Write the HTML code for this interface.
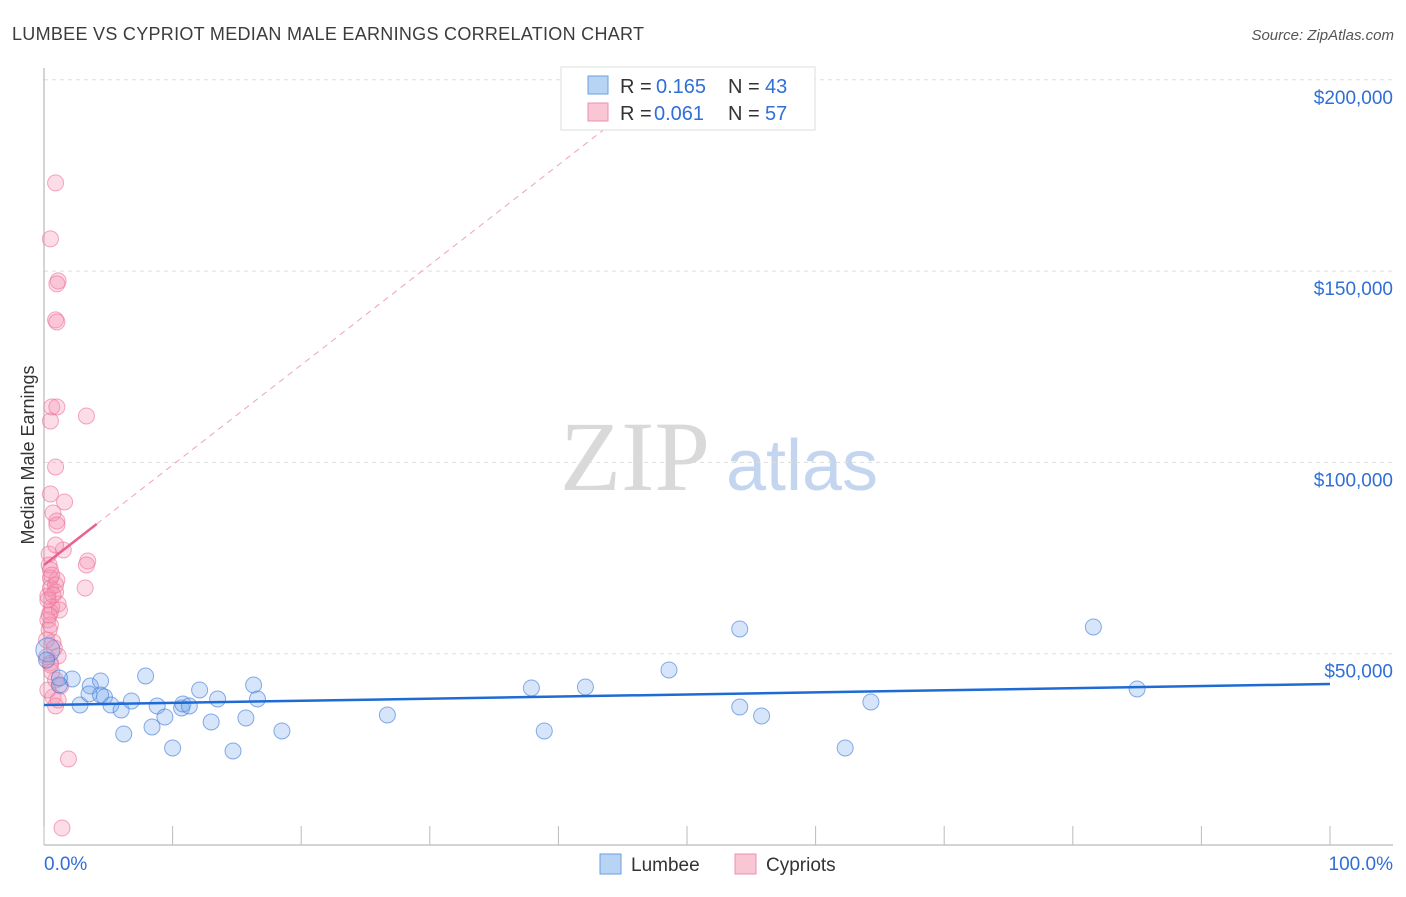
<!DOCTYPE html>
<html><head><meta charset="utf-8"><style>
body{margin:0;background:#fff;font-family:"Liberation Sans",sans-serif}
svg text{font-family:"Liberation Sans",sans-serif}
</style></head><body>
<svg id="chart" width="1406" height="892" xmlns="http://www.w3.org/2000/svg">
<text x="12" y="40" font-size="18" fill="#3c3c3c" textLength="632" lengthAdjust="spacing">LUMBEE VS CYPRIOT MEDIAN MALE EARNINGS CORRELATION CHART</text>
<text x="1394" y="40" font-size="15" font-style="italic" fill="#555" text-anchor="end">Source: ZipAtlas.com</text>
<g>
<text x="635" y="490" font-size="100" fill="#d9d9d9" style="font-family:'Liberation Serif',serif" text-anchor="middle">ZIP</text>
<text x="802" y="490" font-size="72" fill="#c4d6ef" text-anchor="middle">atlas</text>
</g>
<g id="grid"></g>
<g id="axes"></g>
<g id="marks"></g>
<text transform="translate(34,455) rotate(-90)" font-size="18" fill="#333" text-anchor="middle">Median Male Earnings</text>
<g>
<rect x="561" y="67" width="254" height="63" fill="#fff" stroke="#ddd"/>
<rect x="588" y="76" width="20" height="18" fill="#b8d4f5" stroke="#6a9ee0"/>
<rect x="588" y="103" width="20" height="18" fill="#f9c6d6" stroke="#ec8fb0"/>
<text x="620" y="93" font-size="20" fill="#333">R =</text>
<text x="656" y="93" font-size="20" fill="#2f6fd6">0.165</text>
<text x="728" y="93" font-size="20" fill="#333">N =</text>
<text x="765" y="93" font-size="20" fill="#2f6fd6">43</text>
<text x="620" y="120" font-size="20" fill="#333">R =</text>
<text x="654" y="120" font-size="20" fill="#2f6fd6">0.061</text>
<text x="728" y="120" font-size="20" fill="#333">N =</text>
<text x="765" y="120" font-size="20" fill="#2f6fd6">57</text>
</g>
<g>
<rect x="600" y="854" width="21" height="20" fill="#b8d4f5" stroke="#6a9ee0"/>
<text x="631" y="871" font-size="19" fill="#333">Lumbee</text>
<rect x="735" y="854" width="21" height="20" fill="#f9c6d6" stroke="#ec8fb0"/>
<text x="766" y="871" font-size="19" fill="#333">Cypriots</text>
</g>
</svg>
<script>
const yTicks=[50000,100000,150000,200000];
const yTickLabels=["$50,000","$100,000","$150,000","$200,000"];
const xTickLabels=["0.0%","100.0%"];
const lumbeeX=[0.3,0.2,1.2,2.2,2.8,3.6,4.4,4.7,3.5,5.2,6.0,6.2,6.8,7.9,8.4,8.8,9.4,10.0,10.7,10.8,11.3,12.1,13.0,13.5,14.7,15.7,16.3,16.6,18.5,26.7,37.9,38.9,42.1,48.6,54.1,54.1,55.8,62.3,64.3,81.6,85.0,1.2,4.4];
const lumbeeY=[50970,48360,41820,43390,36600,41560,42870,38690,39470,36600,35290,29020,37640,44180,30850,36330,33460,25360,35810,36860,36330,40520,32150,38160,24570,33200,41820,38160,29800,33980,41040,29800,41300,45750,56460,36070,33720,25360,37380,56990,40780,43650,39210];
const cypX=[0.9,0.5,1.1,1.0,0.9,1.0,0.6,1.0,0.5,3.3,0.9,0.5,1.6,0.7,1.0,1.0,1.5,0.4,0.4,3.4,3.3,0.5,1.0,3.2,0.5,0.9,0.3,1.1,0.6,0.5,0.3,0.5,0.7,0.2,1.1,0.5,0.5,0.9,1.3,0.7,0.9,1.9,1.4,0.3,0.4,0.6,0.9,1.2,0.2,0.8,0.5,1.1,0.3,0.6,0.9,0.4,0.7];
const cypY=[173050,158410,147430,146650,137240,136710,114490,114490,110830,112140,98810,91750,89660,86780,84690,83650,77110,76070,73190,74240,73190,69790,69270,67180,67180,66130,65090,63000,62210,60910,58820,57510,53060,49140,49400,47570,47050,43130,41560,38690,36330,22480,4440,64040,56200,45220,67960,61430,53590,51500,71880,37900,40520,70580,78420,60120,65350];
const lumbeeTrend=[36600,42090];
const cypTrend=[73190,2614];
const x=v=>44+v*12.86, y=v=>845-v*191.3/50000;
const NS="http://www.w3.org/2000/svg";
function mk(tag,attrs,parent){const e=document.createElementNS(NS,tag);for(const k in attrs)e.setAttribute(k,attrs[k]);document.getElementById(parent).appendChild(e);return e;}
yTicks.forEach((t,i)=>{
 const g=mk('line',{x1:44,x2:1393,y1:y(t),y2:y(t),stroke:'#ddd','stroke-dasharray':'4,4'},'grid');
 
 
 const l=mk('text',{x:1393,y:y(t)+24,'font-size':19,fill:'#2f6fd6','text-anchor':'end'},'axes');l.textContent=yTickLabels[i];
 
 
});
let a=mk('line',{x1:44,x2:44,y1:68,y2:845,stroke:'#aaa'},'axes');


a=mk('line',{x1:44,x2:1393,y1:845,y2:845,stroke:'#aaa'},'axes');


for(let i=0;i<=10;i++){const t=mk('line',{x1:x(i*10),x2:x(i*10),y1:826,y2:845,stroke:'#bbb'},'axes');
 
 }
let xl=mk('text',{x:44,y:870,'font-size':19,fill:'#2f6fd6'},'axes');xl.textContent=xTickLabels[0];


xl=mk('text',{x:1393,y:870,'font-size':19,fill:'#2f6fd6','text-anchor':'end'},'axes');xl.textContent=xTickLabels[1];


cypX.forEach((v,i)=>{const c=mk('circle',{cx:x(v),cy:y(cypY[i]),r:8,fill:'rgba(244,143,177,0.3)',stroke:'rgba(236,110,150,0.6)'},'marks');
 
 });
lumbeeX.forEach((v,i)=>{const c=mk('circle',{cx:x(v),cy:y(lumbeeY[i]),r:i==0?12:8,fill:'rgba(120,170,235,0.3)',stroke:'rgba(60,120,215,0.6)'},'marks');
 
 });
let tl=mk('line',{x1:x(0),x2:x(100),y1:y(lumbeeTrend[0]),y2:y(lumbeeTrend[1]),stroke:'#1f6bd6','stroke-width':2.5},'marks');


tl=mk('line',{x1:x(4.1),x2:x(43.5),y1:y(cypTrend[0]+cypTrend[1]*4.1),y2:y(cypTrend[0]+cypTrend[1]*43.5),stroke:'#f0a0bc','stroke-width':1,'stroke-dasharray':'6,5'},'marks');


tl=mk('line',{x1:x(0),x2:x(4.1),y1:y(cypTrend[0]),y2:y(cypTrend[0]+cypTrend[1]*4.1),stroke:'#e8628e','stroke-width':2.5},'marks');


</script>
</body></html>
